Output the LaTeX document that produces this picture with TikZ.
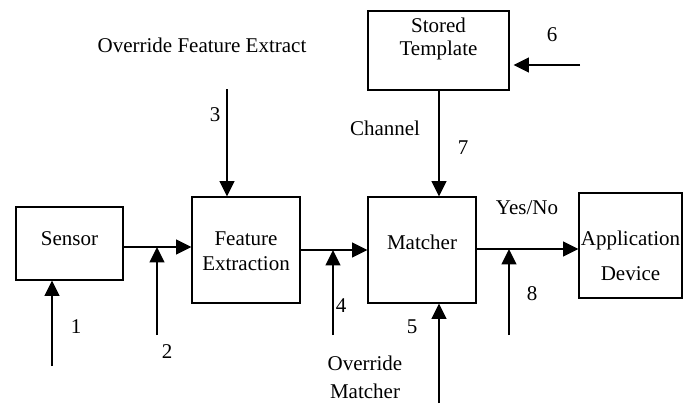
\documentclass[tikz,border=0pt]{standalone}
\usepackage{fontspec}
\setmainfont{Liberation Serif}
\usetikzlibrary{arrows.meta,fit,positioning}

\begin{document}
\begin{tikzpicture}[x=0.75pt,y=-0.75pt,
  every node/.style={font=\rmfamily\fontsize{15.75}{17.25}\selectfont},
  blk/.style={draw,line width=0.8pt,inner sep=0pt},
  flow/.style={-{Triangle[length=11.5pt,width=11pt]},line width=1.6pt},
  txt/.style={align=center,inner sep=0pt}]
\useasboundingbox (0,0) rectangle (686,404);
% blocks
\node [blk,fit={(16,207) (123,280)}] (sensor) {};
\node [blk,fit={(192,197) (300,303)}] (feat) {};
\node [blk,fit={(368,197) (476,303)}] (match) {};
\node [blk,fit={(368,11) (509,90)}] (store) {};
\node [blk,fit={(579,193) (682,298)}] (app) {};
\node [txt] (sensorT) at ([yshift=4pt]sensor.center) {Sensor};
\node [txt] (featT) at ([yshift=-1pt]feat.center) {Feature\\[1.5pt]Extraction};
\node [txt] (matchT) at ([yshift=6pt]match.center) {Matcher};
\node [txt] (storeT) at ([yshift=8.5pt]store.center) {Stored\\Template};
\node [txt] (appT) at ([yshift=-7.5pt]app.center) {Application\\[9pt]Device};
% inputs and junctions
\coordinate (in1) at (52,366);
\coordinate (in2) at (157,335);
\coordinate (j2) at (157,247);
\coordinate (in3) at (227,89);
\coordinate (in4) at (333,335);
\coordinate (j4) at (333,250);
\coordinate (in5) at (439,403);
\coordinate (in6) at (580,65);
\coordinate (in7) at (439,90);
\coordinate (in8) at (509,335);
\coordinate (j8) at (509,249);
% main line
\draw [flow] (sensor.east |- j2) -- (feat.west |- j2);
\draw [flow] (feat.east |- j4) -- (match.west |- j4);
\draw [flow] (match.east |- j8) -- (app.west |- j8);
\draw [flow] (in7 |- store.south) -- (in7 |- match.north);
% attack points
\draw [flow] (in1) -- (in1 |- sensor.south);
\draw [flow] (in2) -- (j2);
\draw [flow] (in3) -- (in3 |- feat.north);
\draw [flow] (in4) -- (j4);
\draw [flow] (in5) -- (in5 |- match.south);
\draw [flow, shorten >=3pt] (in6) -- (store.east |- in6);
\draw [flow] (in8) -- (j8);
% labels
\foreach \n/\x/\y in {1/76/327,2/167/352,3/215/115,4/341/306,5/412/327,6/552/35,7/463/148,8/532/294}
  \node (num\n) at (\x,\y) {\n};
\node (ofe) at (202,45) {Override Feature Extract};
\node (chan) at (385,128) {Channel};
\node (yn) at (527,208) {Yes/No};
\node [align=center] (om) at (365,377) {Override\\[3.5pt]Matcher};
\end{tikzpicture}
\end{document}
